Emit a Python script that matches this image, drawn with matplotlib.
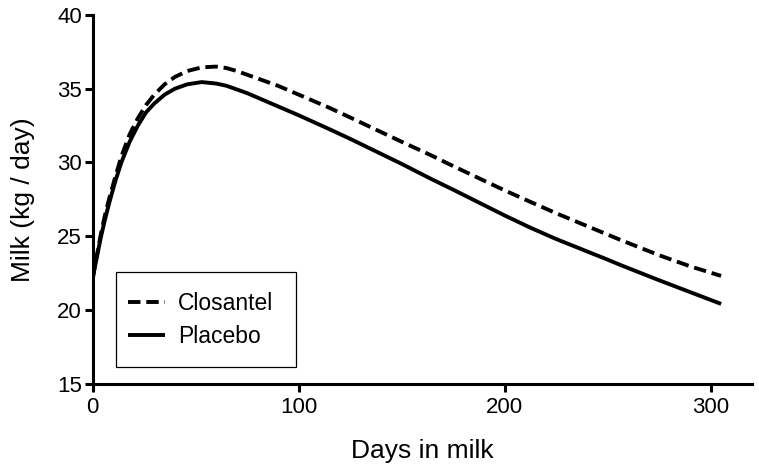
import matplotlib
matplotlib.use('Agg')
import matplotlib.pyplot as plt
from matplotlib.patches import Rectangle

plt.rcParams['font.family'] = ['Liberation Sans', 'DejaVu Sans']

# values
days = [0, 1, 2, 4, 6, 8, 11, 14, 18, 22, 26, 30, 35, 40, 46, 53, 60, 65, 70, 75, 80, 90,
        100, 115, 125, 150, 164, 175, 200, 212, 225, 250, 256, 275, 290, 305]
placebo = [22.0, 22.8, 23.5, 24.9, 26.1, 27.2, 28.7, 30.0, 31.4, 32.5, 33.4, 34.0,
           34.6, 35.0, 35.3, 35.45, 35.35, 35.2, 34.95, 34.7, 34.4, 33.8, 33.2, 32.25,
           31.6, 29.9, 28.9, 28.15, 26.4, 25.6, 24.8, 23.4, 23.05, 22.0, 21.2, 20.4]
closantel = [22.1, 22.9, 23.6, 25.1, 26.4, 27.5, 29.0, 30.4, 31.9, 33.0, 33.9, 34.6,
             35.3, 35.8, 36.2, 36.45, 36.5, 36.4, 36.2, 35.95, 35.7, 35.2, 34.6, 33.7,
             33.05, 31.4, 30.5, 29.75, 28.1, 27.35, 26.55, 25.1, 24.75, 23.7, 22.95, 22.3]

x_ticks = [0, 100, 200, 300]
y_ticks = [15, 20, 25, 30, 35, 40]

fig = plt.figure(figsize=(7.59, 4.75), dpi=100)
ax = fig.add_axes([0.1219, 0.1926, 0.8689, 0.7758])

ax.plot(days, closantel, color='black', linewidth=2.8, linestyle=(0, (3.2, 1.5)),
        dash_capstyle='butt', label='Closantel')
ax.plot(days, placebo, color='black', linewidth=2.8, linestyle='-',
        solid_capstyle='butt', label='Placebo')

ax.set_xlim(0, 320)
ax.set_ylim(15, 40)
ax.set_xticks(x_ticks)
ax.set_yticks(y_ticks)

for side in ['top', 'right']:
    ax.spines[side].set_visible(False)
for side in ['left', 'bottom']:
    ax.spines[side].set_linewidth(2.2)
ax.tick_params(axis='both', direction='out', length=6, width=2.2, labelsize=16)
ax.tick_params(axis='y', pad=1.5)
ax.tick_params(axis='x', pad=4)

ax.set_xlabel('Days in milk', fontsize=19)
ax.set_ylabel('Milk (kg / day)', fontsize=19)
ax.xaxis.set_label_coords(0.5, -0.151)
ax.yaxis.set_label_coords(-0.087, 0.5)

# legend box drawn separately so its padding matches the reference
ax.add_patch(Rectangle((0.0352, 0.044), 0.273, 0.2594, transform=ax.transAxes,
                       fill=False, edgecolor='black', linewidth=0.9, clip_on=False))
ax.legend(loc='upper left', bbox_to_anchor=(0.0537, 0.2490), frameon=False,
          fontsize=16.5, handlelength=1.6, handletextpad=0.6, labelspacing=0.45,
          borderpad=0, borderaxespad=0)

fig.savefig('out.png', dpi=100)
